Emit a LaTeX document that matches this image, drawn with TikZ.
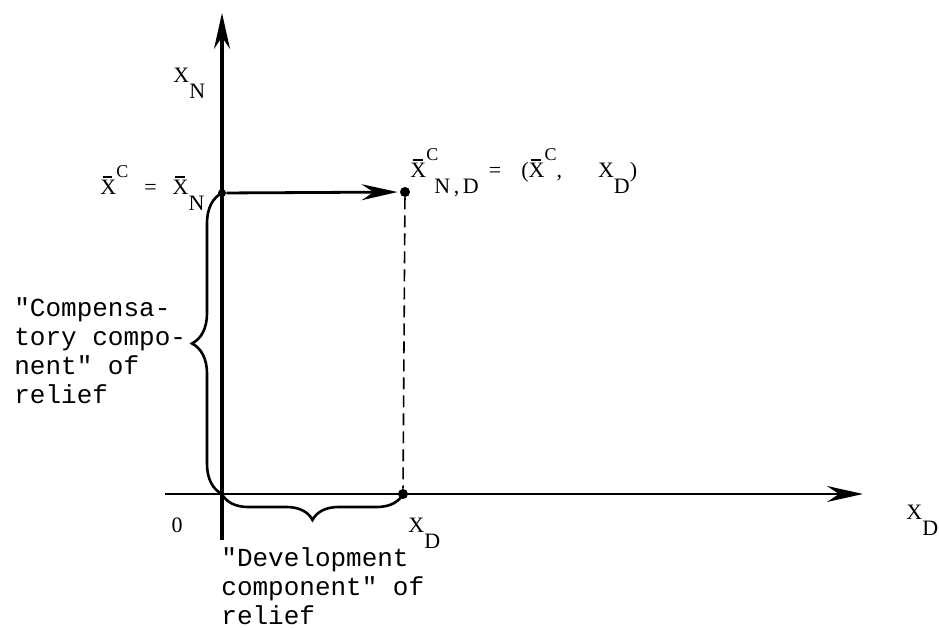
\documentclass[tikz,border=0pt]{standalone}
\usepackage{fontspec}
\setmainfont{Liberation Serif}
\newfontfamily\typefont{Liberation Mono}
\usetikzlibrary{arrows.meta,decorations.pathreplacing}
\newcommand{\xb}{\makebox[0pt][l]{\hspace{0.1em}\raisebox{0.78em}{\rule{0.45em}{0.09em}}}X}
\newcommand{\dn}[1]{\raisebox{-8pt}{#1}}
\newcommand{\up}[1]{\raisebox{8.5pt}{\small #1}}

\begin{document}
\begin{tikzpicture}[x=0.5pt,y=-0.5pt,
  axis/.style={line width=1.8pt,-{Stealth[length=18pt,width=8pt,inset=6pt]}},
  bracket/.style={line width=1.3pt,decorate,decoration={brace,amplitude=13pt}},
  dot/.style={circle,fill=black,inner sep=0pt,minimum size=5pt},
  lbl/.style={font=\fontsize{11}{13}\selectfont,inner sep=0pt},
  note/.style={font=\typefont\fontsize{13}{14.6}\selectfont,align=left,inner sep=0pt}]
\useasboundingbox (0,0) rectangle (939,630);
% axes
\coordinate (O) at (222,494);
\coordinate (ytop) at (222,13);
\coordinate (ybot) at (222,540);
\coordinate (xleft) at (165,494);
\coordinate (xright) at (863,494);
\draw[axis] (ybot) -- (ytop);
\draw[axis,line width=1.4pt] (xleft) -- (xright);
% points
\node[dot,minimum size=4pt] (N) at (222,193) {};
\node[dot] (C) at (405,192) {};
\node[dot] (D) at (403,494) {};
\draw[axis,line width=1.4pt,shorten >=1pt] (N) -- (C);
\draw[line width=0.8pt,dash pattern=on 6pt off 3pt] (C) -- (D);
% braces
\draw[bracket,decoration={amplitude=15pt}] (O) -- (N.center);
\draw[bracket,decoration={mirror}] (O) -- (D.center);
% labels
\node[lbl,anchor=base west] (xn) at (173,83) {X\dn{N}};
\node[lbl,anchor=base west] (xc) at (100,195)
  {\xb\up{C}\hspace{8pt}=\hspace{8pt}\xb\dn{N}};
\node[lbl,anchor=base west] (xcnd) at (410,178)
  {\xb\rlap{\up{C}}\hspace{4pt}\dn{N\,,\,D}\hspace{5pt}=\hspace{10pt}(\xb\up{C},\hspace{18pt}X\dn{D})};
\node[lbl] (zero) at (177,525) {0};
\node[lbl,anchor=base west] (xd) at (408,533) {X\dn{D}};
\node[lbl,anchor=base west] (xdaxis) at (906,520) {X\dn{D}};
\node[note,anchor=north west] (comp) at (14,297)
  {"Compensa-\\tory compo-\\nent" of\\relief};
\node[note,anchor=north west] (dev) at (221,547)
  {"Development\\component" of\\relief};
\end{tikzpicture}
\end{document}
